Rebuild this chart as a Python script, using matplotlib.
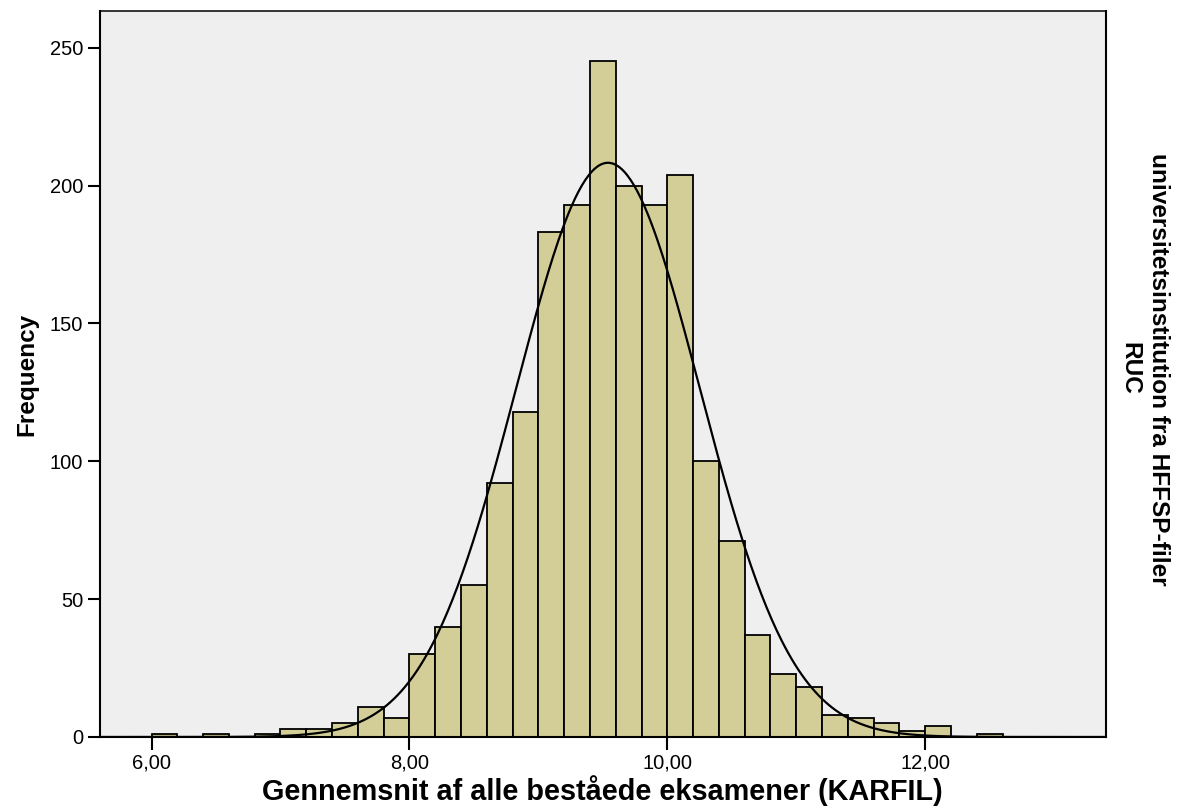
import matplotlib

matplotlib.use("Agg")
import matplotlib.pyplot as plt
import numpy as np
from matplotlib.ticker import FuncFormatter

# histogram bins (left edges, width 0.2) and counts
bin_left = [6.0, 6.4, 6.8, 7.0, 7.2, 7.4, 7.6, 7.8, 8.0, 8.2, 8.4, 8.6, 8.8,
            9.0, 9.2, 9.4, 9.6, 9.8, 10.0, 10.2, 10.4, 10.6, 10.8, 11.0,
            11.2, 11.4, 11.6, 11.8, 12.0, 12.4]
counts = [1, 1, 1, 3, 3, 5, 11, 7, 30, 40, 55, 92, 118,
          183, 193, 245, 200, 193, 204, 100, 71, 37, 23, 18,
          8, 7, 5, 2, 4, 1]
bin_width = 0.2

# summary stats for the fitted normal curve
mean_val = 9.54
std_val = 0.713
n_total = 1861

x_ticks = [6, 8, 10, 12]
y_ticks = [0, 50, 100, 150, 200, 250]

FONT = ["Liberation Sans", "DejaVu Sans"]
NARROW = ["Liberation Sans Narrow", "Liberation Sans", "DejaVu Sans"]

fig = plt.figure(figsize=(11.79, 8.09), dpi=100)
ax = fig.add_axes([0.0848, 0.089, 0.853, 0.8974])
ax.set_facecolor("#efefef")

ax.bar(bin_left, counts, width=bin_width, align="edge", color="#d3ce98",
       edgecolor="black", linewidth=1.3, zorder=2)

xs = np.linspace(5.6, 13.4, 600)
pdf = n_total * bin_width / (std_val * np.sqrt(2 * np.pi)) * np.exp(-0.5 * ((xs - mean_val) / std_val) ** 2)
ax.plot(xs, pdf, color="black", linewidth=1.6, zorder=3)

ax.set_xlim(5.6, 13.4)
ax.set_ylim(0, 263.3)
ax.set_xticks(x_ticks)
ax.set_yticks(y_ticks)
ax.xaxis.set_major_formatter(FuncFormatter(lambda v, p: f"{v:.2f}".replace(".", ",")))
ax.tick_params(direction="out", length=9, width=1.5, labelsize=14.5, pad=3)
for lab in ax.get_xticklabels() + ax.get_yticklabels():
    lab.set_family(FONT)

for side in ["left", "bottom", "right", "top"]:
    ax.spines[side].set_linewidth(1.5)
ax.spines["top"].set_linewidth(1.1)

ax.set_xlabel("Gennemsnit af alle beståede eksamener (KARFIL)", family=FONT,
              fontsize=20.8, fontweight="bold", labelpad=2)
ax.set_ylabel("Frequency", family=NARROW, fontsize=17.5, fontweight="bold", labelpad=8)

fig.text(0.9705, 0.544, "universitetsinstitution fra HFFSP-filer\nRUC", family=NARROW,
         fontsize=17.6, fontweight="bold", rotation=-90, ha="center", va="center",
         multialignment="center", linespacing=1.35)

fig.savefig("out.png", dpi=100)
